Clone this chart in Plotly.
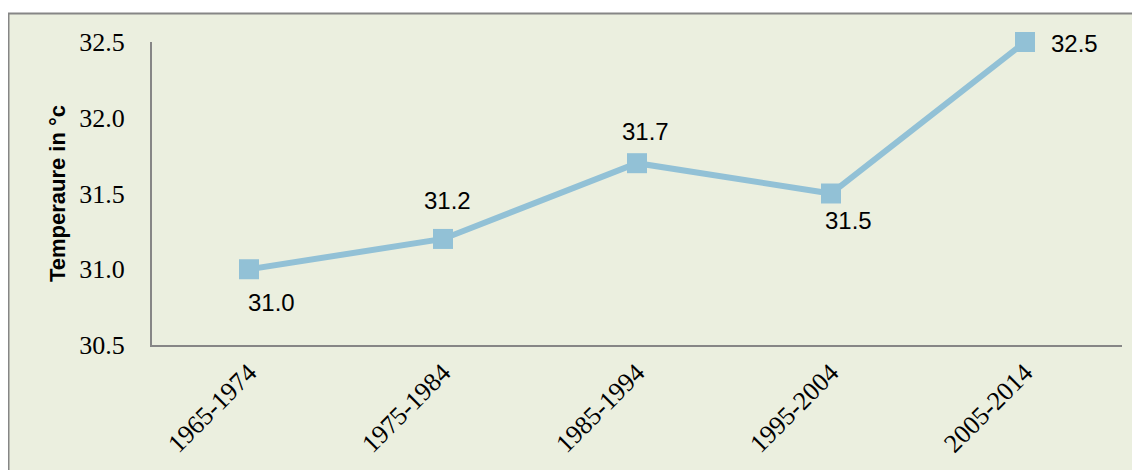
import plotly.graph_objects as go

categories = ["1965-1974", "1975-1984", "1985-1994", "1995-2004", "2005-2014"]
temperatures = [31.0, 31.2, 31.7, 31.5, 32.5]
y_ticks = [30.5, 31.0, 31.5, 32.0, 32.5]
y_title = "Temperaure in °c"

# label offsets (px): (xshift, yshift)
label_offsets = [(22, -33), (4, 38), (8, 32), (17, -27), (49, -1)]

LINE = "#92C1D6"
BG = "#EBEFDF"
AX = "#868686"
SERIF = "'Liberation Serif', 'Times New Roman', 'DejaVu Serif', serif"
SANS = "'Liberation Sans', Arial, sans-serif"

fig = go.Figure()
fig.add_trace(go.Scatter(
    x=categories, y=temperatures, mode="lines+markers",
    line=dict(color=LINE, width=6),
    marker=dict(symbol="square", size=20, color=LINE),
    hoverinfo="skip", showlegend=False, cliponaxis=False,
))

for c, v, (dx, dy) in zip(categories, temperatures, label_offsets):
    fig.add_annotation(
        x=c, y=v, text=f"{v:.1f}", showarrow=False,
        xanchor="center", yanchor="middle", xshift=dx, yshift=dy,
        font=dict(family=SANS, size=24, color="#000000"),
    )

# page body has an 8px margin; figure coordinates are page coordinates minus 8
W, H = 1132, 462
L, R, T, B = 144, 18, 34, 121
pw, ph = W - L - R, H - T - B

def px_x(p):
    return (p - L) / pw

def px_y(p):
    return (H - B - p) / ph

fig.add_shape(
    type="rect", xref="paper", yref="paper", layer="below",
    x0=px_x(0.5), x1=px_x(1160), y0=px_y(5), y1=px_y(490),
    fillcolor=BG, line=dict(color=AX, width=2),
)

fig.update_layout(
    width=W, height=H,
    margin=dict(l=L, r=R, t=T, b=B),
    paper_bgcolor="#FFFFFF",
    plot_bgcolor="rgba(0,0,0,0)",
    xaxis=dict(
        type="category", range=[-0.5, 4.5],
        showline=True, linecolor=AX, linewidth=2,
        showgrid=False, zeroline=False, ticks="",
        tickangle=-45,
        tickfont=dict(family=SERIF, size=26, color="#000000"),
        ticklabelstandoff=0,
    ),
    yaxis=dict(
        range=[30.5, 32.5], tickvals=y_ticks, tickformat=".1f",
        showline=True, linecolor=AX, linewidth=2,
        showgrid=False, zeroline=False, ticks="",
        tickfont=dict(family=SERIF, size=26, color="#000000"),
        ticklabelstandoff=20,
        title=dict(text=y_title, standoff=8,
                   font=dict(family=SANS, size=22, color="#000000", weight="bold")),
    ),
)

fig.write_html("out.html")
